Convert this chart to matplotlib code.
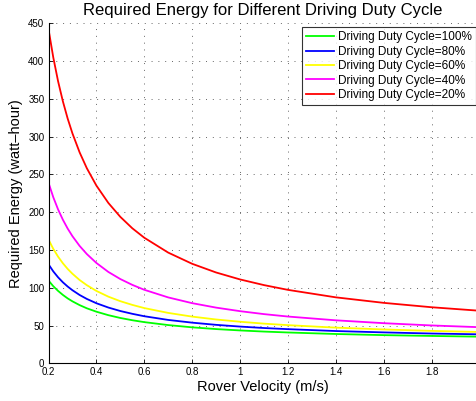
import matplotlib
matplotlib.use("Agg")
import matplotlib.pyplot as plt
import numpy as np

plt.rcParams['font.family'] = ['Liberation Sans', 'DejaVu Sans']

velocity = [0.2, 0.22, 0.24, 0.26, 0.28, 0.3, 0.33, 0.36, 0.4, 0.45, 0.5, 0.55,
            0.6, 0.7, 0.8, 0.9, 1.0, 1.1, 1.2, 1.4, 1.6, 1.8, 1.99]

energy_100 = [109.5, 102.0, 95.8, 90.5, 85.9, 82.0, 77.0, 72.8, 68.3, 63.7, 60.0, 57.0,
              54.5, 50.6, 47.6, 45.3, 43.5, 42.0, 40.8, 38.8, 37.3, 36.2, 35.3]
energy_80 = [131.0, 121.6, 113.8, 107.2, 101.6, 96.7, 90.4, 85.2, 79.5, 73.8, 69.2, 65.5,
             62.3, 57.4, 53.8, 50.9, 48.6, 46.7, 45.2, 42.7, 40.9, 39.4, 38.4]
energy_60 = [163.8, 151.4, 141.1, 132.4, 124.9, 118.5, 110.2, 103.4, 95.8, 88.2, 82.2, 77.3,
             73.1, 66.7, 61.8, 58.0, 55.0, 52.5, 50.5, 47.2, 44.8, 42.9, 41.5]
energy_40 = [239.0, 219.7, 203.6, 190.0, 178.3, 168.2, 155.3, 144.6, 132.8, 120.9, 111.5, 103.8,
             97.3, 87.2, 79.6, 73.7, 69.0, 65.1, 61.9, 56.9, 53.1, 50.1, 47.9]
energy_20 = [442.2, 404.6, 373.2, 346.7, 323.9, 304.2, 279.1, 258.2, 235.2, 212.2, 193.8, 178.7,
             166.2, 146.5, 131.7, 120.2, 111.0, 103.5, 97.2, 87.3, 80.0, 74.2, 69.8]

labels = ['Driving Duty Cycle=100%', 'Driving Duty Cycle=80%', 'Driving Duty Cycle=60%',
          'Driving Duty Cycle=40%', 'Driving Duty Cycle=20%']
series = [energy_100, energy_80, energy_60, energy_40, energy_20]
colors = ['#00ff00', '#0000ff', '#ffff00', '#ff00ff', '#ff0000']

x_ticks = [0.2, 0.4, 0.6, 0.8, 1.0, 1.2, 1.4, 1.6, 1.8]
x_tick_labels = ['0.2', '0.4', '0.6', '0.8', '1', '1.2', '1.4', '1.6', '1.8']
y_ticks = [0, 50, 100, 150, 200, 250, 300, 350, 400, 450]

fig = plt.figure(figsize=(4.77, 4.01), dpi=100)
ax = fig.add_axes([0.1017, 0.094, 0.8983, 0.848])

for ys, c, lab in zip(series, colors, labels):
    ax.plot(velocity, ys, color=c, lw=1.3, label=lab)

ax.set_xlim(0.2, 1.99)
ax.set_ylim(0, 450)
ax.set_xticks(x_ticks)
ax.set_xticklabels(x_tick_labels)
ax.set_yticks(y_ticks)
ax.tick_params(direction='in', labelsize=7, length=3, width=0.6, pad=3, colors='black')
ax.grid(True, linestyle=(0, (1, 6)), color='#666666', linewidth=0.7)
ax.spines['top'].set_visible(False)
ax.spines['right'].set_visible(False)
for s in ['left', 'bottom']:
    ax.spines[s].set_linewidth(0.8)

ax.set_xlabel('Rover Velocity (m/s)', fontsize=10.5, labelpad=2)
ax.set_ylabel('Required Energy (watt\u2013hour)', fontsize=10.5, labelpad=4)
ax.set_title('Required Energy for Different Driving Duty Cycle', fontsize=12, pad=6)

leg = ax.legend(loc='upper right', bbox_to_anchor=(0.998, 0.988), borderaxespad=0,
                fontsize=8.5, frameon=True, fancybox=False, handlelength=2.4,
                handletextpad=0.35, labelspacing=0.2, borderpad=0.35)
leg.get_frame().set_edgecolor('black')
leg.get_frame().set_linewidth(0.8)

fig.savefig('out.png', dpi=100)
